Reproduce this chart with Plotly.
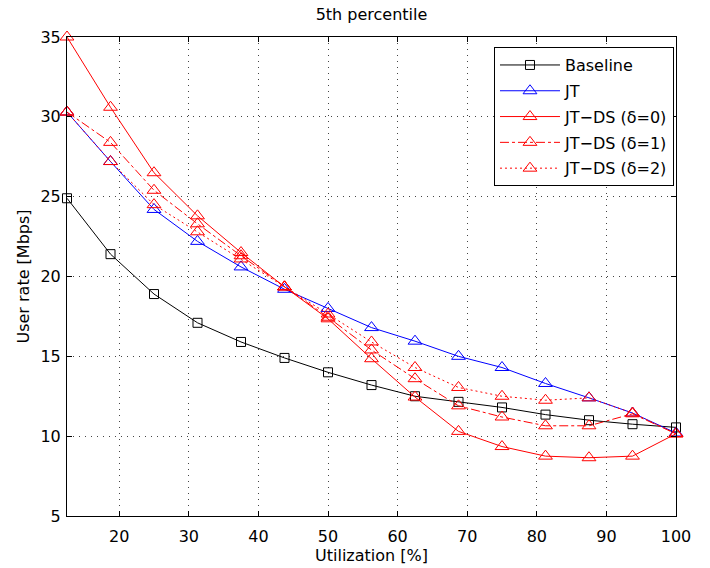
import plotly.graph_objects as go

utilization = [12.5, 18.75, 25, 31.25, 37.5, 43.75, 50, 56.25, 62.5, 68.75, 75, 81.25, 87.5, 93.75, 100]
baseline = [24.9, 21.4, 18.9, 17.1, 15.9, 14.9, 14.0, 13.2, 12.5, 12.15, 11.8, 11.35, 11.0, 10.75, 10.55]
jt = [30.3, 27.2, 24.2, 22.2, 20.6, 19.2, 18.0, 16.8, 15.95, 15.0, 14.3, 13.3, 12.4, 11.45, 10.2]
jtds_d0 = [35.0, 30.6, 26.5, 23.8, 21.5, 19.35, 17.35, 14.85, 12.45, 10.3, 9.35, 8.75, 8.65, 8.75, 10.15]
jtds_d1 = [30.3, 28.4, 25.4, 23.3, 21.3, 19.35, 17.45, 15.4, 13.6, 11.9, 11.2, 10.65, 10.65, 11.4, 10.15]
jtds_d2 = [30.3, 27.2, 24.5, 22.8, 21.1, 19.35, 17.65, 15.9, 14.3, 13.05, 12.5, 12.25, 12.4, 11.45, 10.15]

series_names = ["Baseline", "JT", "JT\u2212DS (\u03b4=0)", "JT\u2212DS (\u03b4=1)", "JT\u2212DS (\u03b4=2)"]
series_values = [baseline, jt, jtds_d0, jtds_d1, jtds_d2]
colors = ["#000000", "#0000ff", "#ff0000", "#ff0000", "#ff0000"]
dashes = ["solid", "solid", "solid", "dashdot", "2px,3px"]
symbols = ["square-open", "triangle-up-open", "triangle-up-open", "triangle-up-open", "triangle-up-open"]
sizes = [9, 12, 12, 12, 12]

x_ticks = [20, 30, 40, 50, 60, 70, 80, 90, 100]
y_ticks = [5, 10, 15, 20, 25, 30, 35]

FONT = "DejaVu Sans"

fig = go.Figure()
for i, (name, vals) in enumerate(zip(series_names, series_values)):
    fig.add_trace(go.Scatter(
        x=utilization, y=vals, name=name, mode="lines+markers",
        line=dict(color=colors[i], width=1, dash=dashes[i]),
        marker=dict(symbol=symbols[i], size=sizes[i], color=colors[i],
                    line=dict(width=1, color=colors[i])),
        cliponaxis=False, legendgroup=name,
    ))

axis_common = dict(
    showline=True, linecolor="black", linewidth=1, mirror="ticks",
    ticks="inside", ticklen=5, tickcolor="black", tickwidth=1,
    showgrid=True, gridcolor="#444444", gridwidth=1, griddash="1px,5px",
    zeroline=False, tickfont=dict(family=FONT, size=16, color="black"),
    automargin=False,
)

fig.update_xaxes(range=[12.5, 100], tickvals=x_ticks, ticklabelstandoff=6,
                 title=dict(text="Utilization [%]", font=dict(family=FONT, size=16, color="black"), standoff=2),
                 **axis_common)
fig.update_yaxes(range=[5, 35], tickvals=y_ticks, ticklabelstandoff=2,
                 title=dict(text="User rate [Mbps]", font=dict(family=FONT, size=16, color="black"), standoff=6),
                 **axis_common)

fig.update_layout(
    width=710, height=568, autosize=False,
    margin=dict(l=67, r=34, t=37, b=52),
    paper_bgcolor="white", plot_bgcolor="white",
    font=dict(family=FONT, size=16, color="black"),
    title=dict(text="5th percentile", x=(67 + 676) / 2 / 710, xanchor="center",
               y=1 - 14 / 568, yanchor="middle", yref="container",
               font=dict(family=FONT, size=16, color="black")),
    legend=dict(x=0.9967, xanchor="right", y=0.979, yanchor="top",
                bordercolor="black", borderwidth=1, bgcolor="white",
                font=dict(family=FONT, size=16, color="black"),
                tracegroupgap=2, itemwidth=60),
    showlegend=True,
)

fig.write_html("out.html", config={"displayModeBar": False},
               post_script="document.body.style.margin='0';document.body.style.padding='0';")
